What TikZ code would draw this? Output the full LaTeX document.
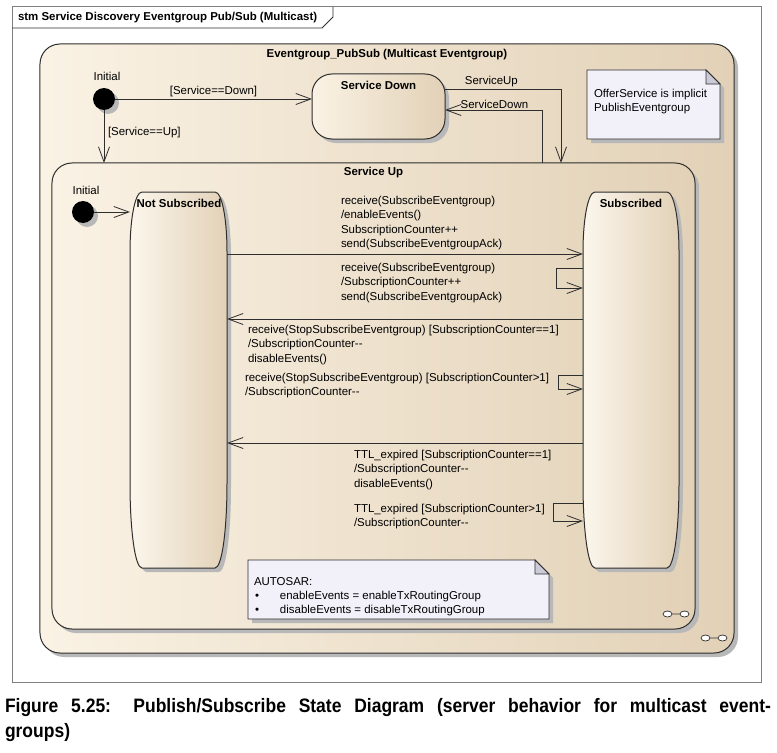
\documentclass[tikz,border=0pt]{standalone}
\usepackage{fontspec}
\setmainfont{Liberation Sans}
\newfontfamily\capfont[FakeStretch=0.9]{Liberation Sans}
\usepackage{tikz}
\usetikzlibrary{positioning}
\usetikzlibrary{arrows.meta}
\usetikzlibrary{shadows}

\definecolor{stateL}{HTML}{FAF2E4}
\definecolor{stateR}{HTML}{E2D1B7}
\definecolor{noteFill}{HTML}{F2F0F9}
\definecolor{foldFill}{HTML}{CBCBD8}
\definecolor{lineCol}{HTML}{2E2E2E}
\definecolor{frameCol}{HTML}{808080}

% tall state with elliptic corners: x0, y0, x1, y1
\newcommand{\barrelpath}[4]{(#1+12,#2) -- (#3-12,#2) .. controls (#3-5,#2) and (#3,#2+27) .. (#3,#2+60) -- (#3,#4-85) .. controls (#3,#4-38) and (#3-5,#4) .. (#3-12,#4) -- (#1+12,#4) .. controls (#1+5,#4) and (#1,#4-38) .. (#1,#4-85) -- (#1,#2+60) .. controls (#1,#2+27) and (#1+5,#2) .. cycle}
% note with folded corner: x0, y0, x1, y1
\newcommand{\notepath}[4]{(#1,#2) -- (#3-14,#2) -- (#3,#2+14) -- (#3,#4) -- (#1,#4) -- cycle}
\newcommand{\foldpath}[4]{(#3-14,#2) -- (#3-14,#2+14) -- (#3,#2+14) -- cycle}
% decomposition icon
\newcommand{\decomp}[2]{\draw[lineCol, fill=white, line width=0.7bp] (#1-8.5,#2) ellipse [x radius=4.5, y radius=3] (#1-4,#2) -- (#1+4,#2) (#1+8.5,#2) ellipse [x radius=4.5, y radius=3];}

\begin{document}
\begin{tikzpicture}[x=1bp, y=-1bp,
		every node/.style={font=\fontsize{11.5}{14.5}\selectfont, inner sep=0pt, outer sep=0pt},
		shadowed/.style={drop shadow={shadow xshift=4bp, shadow yshift=-4bp, fill=black!28, opacity=1}},
		bigstate/.style={rectangle, rounded corners=20bp, draw=lineCol, line width=1bp, left color=stateL, middle color=stateL, right color=stateR, shadowed},
		barrelbox/.style={rectangle, draw=none, minimum width=#1, minimum height=376bp},
		barrelfill/.style={draw=lineCol, line width=1bp, left color=stateL!70!white, middle color=stateL, right color=stateR, shadowed},
		initial/.style={circle, fill=black, minimum size=22bp, shadowed},
		trans/.style={draw=lineCol, line width=0.8bp, -{Straight Barb[length=15bp, width=11bp, line width=0.8bp]}},
		title/.style={font=\fontsize{11.5}{14.5}\selectfont\bfseries},
		guard/.style={align=left, anchor=north west},
		notestyle/.style={draw=lineCol, line width=0.8bp, fill=noteFill, shadowed},
		foldstyle/.style={draw=lineCol, line width=0.8bp, fill=foldFill}]
	\useasboundingbox (0,0) rectangle (777,753);
	% frame
	\draw[frameCol, line width=1bp] (12,7) rectangle (761,682);
	\draw[lineCol, line width=0.8bp] (12,28) -- (322,28) -- (333,17) -- (333,7);
	\node[title, anchor=west] (frametitle) at (18,18) {stm Service Discovery Eventgroup Pub/Sub (Multicast)};

	% states
	\node[bigstate, minimum width=694bp, minimum height=609bp] (pubsub) at (387,348.5) {};
	\node[title] (pubsubtitle) at (387,55) {Eventgroup\_PubSub (Multicast Eventgroup)};
	\node[bigstate, minimum width=133bp, minimum height=65bp] (sd) at (378.5,106.5) {};
	\node[title] (sdtitle) at (378.5,85) {Service Down};
	\node[bigstate, minimum width=643bp, minimum height=466bp] (su) at (373.5,396) {};
	\node[title] (sutitle) at (373.5,173) {Service Up};

	\node[barrelbox=97bp] (ns) at (178.5,380) {};
	\draw[barrelfill] \barrelpath{130}{192}{227}{568};
	\node[title] (nstitle) at (179,203) {Not Subscribed};
	\node[barrelbox=96bp] (sub) at (631,380) {};
	\draw[barrelfill] \barrelpath{583}{192}{679}{568};
	\node[title] (subtitle) at (631,203) {Subscribed};

	\node[initial] (init1) at (104,99) {};
	\node[above=7bp of init1, xshift=3bp] (init1lbl) {Initial};
	\node[initial] (init2) at (83,212) {};
	\node[above=6bp of init2, xshift=3bp] (init2lbl) {Initial};

	% transitions at the top
	\draw[trans] (init1) -- (init1 -| sd.west) node[midway, above=2bp] (lbldown) {[Service==Down]};
	\draw[trans] (init1) -- (init1 |- su.north) node[pos=0.42, right=4bp] (lblup) {[Service==Up]};
	\draw[trans] (sd.east |- 0,89) -| (561,0 |- su.north) node[pos=0.2, above=2bp] (lblsup) {ServiceUp};
	\draw[trans] (542,0 |- su.north) |- (sd.east |- 0,110) node[pos=0.745, above=1bp] (lblsdown) {ServiceDown};

	% transitions in Service Up
	\draw[trans] (init2) -- (init2 -| ns.west);
	\draw[trans] (ns.east |- 0,254) -- (sub.west |- 0,254);
	\node[guard] (g1) at (341,196) {receive(SubscribeEventgroup)\\/enableEvents()\\SubscriptionCounter++\\send(SubscribeEventgroupAck)};
	\draw[trans] (sub.west |- 0,268) -| (556,288) -- (sub.west |- 0,288);
	\node[guard] (g2) at (341,263) {receive(SubscribeEventgroup)\\/SubscriptionCounter++\\send(SubscribeEventgroupAck)};
	\draw[trans] (sub.west |- 0,319) -- (ns.east |- 0,319);
	\node[guard] (g3) at (248,325) {receive(StopSubscribeEventgroup) [SubscriptionCounter==1]\\/SubscriptionCounter-{}-\\disableEvents()};
	\draw[trans] (sub.west |- 0,375) -| (558,389) -- (sub.west |- 0,389);
	\node[guard] (g4) at (245,373) {receive(StopSubscribeEventgroup) [SubscriptionCounter>1]\\/SubscriptionCounter-{}-};
	\draw[trans] (sub.west |- 0,443) -- (ns.east |- 0,443);
	\node[guard] (g5) at (354,450) {TTL\_expired [SubscriptionCounter==1]\\/SubscriptionCounter-{}-\\disableEvents()};
	\draw[trans] (sub.west |- 0,503) -| (553,521) -- (sub.west |- 0,521);
	\node[guard] (g6) at (354,504) {TTL\_expired [SubscriptionCounter>1]\\/SubscriptionCounter-{}-};

	% notes
	\draw[notestyle] \notepath{587}{70}{720}{139};
	\draw[foldstyle] \foldpath{587}{70}{720}{139};
	\node[guard] (offernote) at (594,89) {OfferService is implicit\\PublishEventgroup};
	\draw[notestyle] \notepath{248}{560}{549}{619};
	\draw[foldstyle] \foldpath{248}{560}{549}{619};
	\node[guard] (autosarnote) at (254,577) {AUTOSAR:\\\makebox[26bp][l]{\hspace{1bp}\textbullet}enableEvents = enableTxRoutingGroup\\\makebox[26bp][l]{\hspace{1bp}\textbullet}disableEvents = disableTxRoutingGroup};

	% decomposition icons
	\decomp{676}{614}
	\decomp{714}{638}

	% caption
	\node[anchor=north west, text width=766bp, align=justify, font=\capfont\fontsize{19.5}{26}\selectfont\bfseries] (caption) at (5,698) {Figure 5.25: Publish/Subscribe State Diagram (server behavior for multicast event-\linebreak groups)};
\end{tikzpicture}
\end{document}
